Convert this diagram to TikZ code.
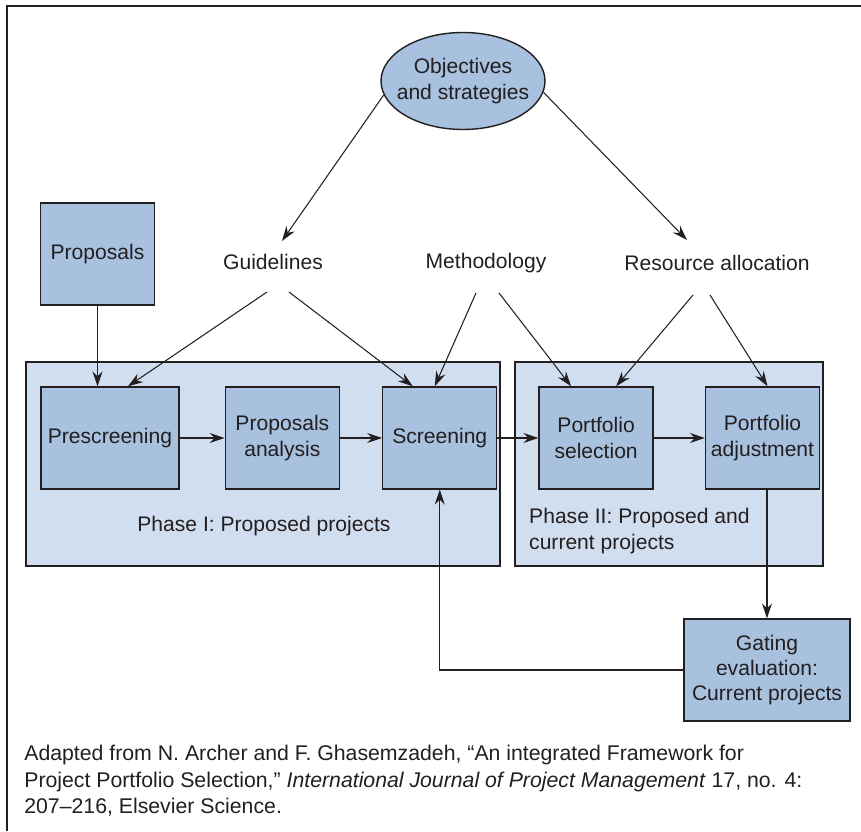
\documentclass[tikz,border=0pt]{standalone}
\usepackage{fontspec}
\setmainfont{Liberation Sans}
\usetikzlibrary{positioning,arrows.meta,shapes.geometric,calc}

\definecolor{boxblue}{HTML}{A7C1DF}
\definecolor{panelblue}{HTML}{D1DEEF}
\definecolor{ink}{HTML}{231F20}

\begin{document}
\begin{tikzpicture}[
    x=0.02cm, y=-0.02cm,
    font=\fontsize{12}{14.4}\selectfont,
    text=ink,
    stage/.style={draw=ink, line width=0.8pt, fill=boxblue, minimum width=2.28cm, minimum height=2.04cm, align=center, inner sep=2pt},
    panel/.style={draw=ink, line width=0.8pt, fill=panelblue, minimum height=4.08cm},
    arrow/.style={-{Stealth[length=3mm, width=2mm, inset=1mm]}, draw=ink, line width=0.6pt}]
\useasboundingbox (0,0) rectangle (861,831);
% frame, open on the right and at the bottom
\draw[ink, line width=1.5pt] (7,831) -- (7,6) -- (861,6);

% the two phases
\node[panel, minimum width=9.48cm] (ph1) at (263,464) {};
\node[panel, minimum width=6.16cm] (ph2) at (669,464) {};
\node (ph1lbl) at (264,526) {Phase I: Proposed projects};
\node[anchor=west, align=left] (ph2lbl) at (523,531) {Phase II: Proposed and\\current projects};

% inputs
\node[ellipse, draw=ink, line width=0.8pt, fill=boxblue, inner xsep=-5pt, inner ysep=0pt, minimum width=3.28cm, minimum height=1.94cm, align=center] (obj) at (463,81) {Objectives\\and strategies};
\node (guide) at (273,262) {Guidelines};
\node (meth) at (486,263) {Methodology};
\node (res) at (717,263) {Resource allocation};
\node[stage] (prop) at (97.5,254) {Proposals};

% pipeline
\node[stage, minimum width=2.76cm] (pre) at (110,438) {Prescreening};
\node[stage, right=0.9cm of pre] (ana) {Proposals\\analysis};
\node[stage, right=0.84cm of ana] (scr) {Screening};
\node[stage, right=0.82cm of scr] (sel) {Portfolio\\selection};
\node[stage, right=1.02cm of sel] (adj) {Portfolio\\adjustment};
\node[stage, minimum width=3.32cm] (gate) at (767,670) {Gating\\evaluation:\\Current projects};

\draw[arrow] (obj.190) -- ($(guide.center)+(9,-21)$);
\draw[arrow] (obj.-8) -- ($(res.center)+(-30,-23)$);
\draw[arrow] (prop) -- (prop.south |- pre.north);
\draw[arrow] ($(guide.center)+(-6,30)$) -- ($(pre.north)+(18,0)$);
\draw[arrow] ($(guide.center)+(16,30)$) -- ($(scr.north)+(-27,0)$);
\draw[arrow] ($(meth.center)+(-10,30)$) -- ($(scr.north)+(-5,0)$);
\draw[arrow] ($(meth.center)+(13,30)$) -- ($(sel.north)+(-25,0)$);
\draw[arrow] ($(res.center)+(-24,32)$) -- ($(sel.north)+(20,0)$);
\draw[arrow] ($(res.center)+(-7,32)$) -- ($(adj.north)+(5,0)$);
\draw[arrow] (pre) -- (ana);
\draw[arrow] (ana) -- (scr);
\draw[arrow] (scr) -- (sel);
\draw[arrow] (sel) -- (adj);
\draw[arrow] (adj.south -| gate) -- (gate);
\draw[arrow] (gate) -| (scr);

% source note
\node[anchor=north west, align=left, inner sep=0pt, font=\fontsize{12.1}{15}\selectfont] (src) at (24,745)
  {Adapted from N. Archer and F. Ghasemzadeh, “An integrated Framework for\\
   Project Portfolio Selection,” \textit{International Journal of Project Management} 17, no. 4:\\
   207–216, Elsevier Science.};
\end{tikzpicture}
\end{document}
